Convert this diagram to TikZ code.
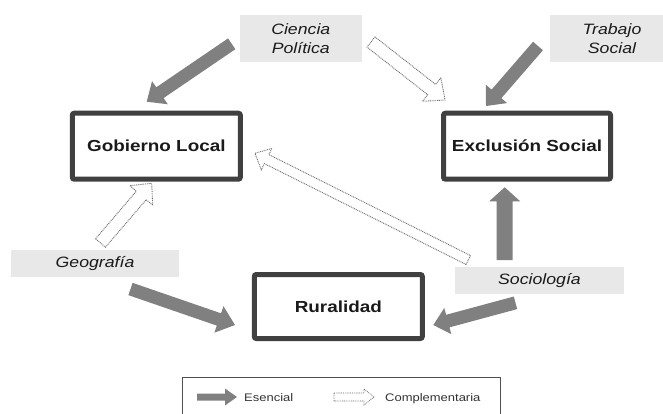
\documentclass[tikz,border=0pt]{standalone}
\usepackage{fontspec}
\setmainfont{Liberation Sans}[FakeStretch=1.18]
\usetikzlibrary{calc}
\definecolor{boxline}{HTML}{404040}
\definecolor{lblfill}{HTML}{E8E8E8}
\definecolor{arrowgrey}{HTML}{808080}
\definecolor{dotgrey}{HTML}{6A6A6A}
\definecolor{txt}{HTML}{1A1A1A}
\definecolor{legline}{HTML}{505050}
\newcommand\fatarrow[6][]{%
  \coordinate (fahb) at ($(#3)!#6!(#2)$);
  \path[#1] ($(#2)!#4!90:(#3)$) -- ($(fahb)!#4!90:(#3)$) -- ($(fahb)!#5!90:(#3)$) -- (#3)
    -- ($(fahb)!#5!-90:(#3)$) -- ($(fahb)!#4!-90:(#3)$) -- ($(#2)!#4!-90:(#3)$) -- cycle;
}
\begin{document}
\begin{tikzpicture}[x=1pt,y=-1pt,
  mainbox/.style={draw=boxline, line width=5pt, rounded corners=2pt, fill=white,
    minimum width=168pt, minimum height=66pt, inner sep=0pt,
    font=\fontsize{16}{19}\selectfont\bfseries, text=txt},
  lblbox/.style={fill=lblfill, inner sep=0pt, font=\fontsize{15}{19}\selectfont\itshape,
    text=txt, align=center},
  solidarrow/.style={fill=arrowgrey},
  dotarrow/.style={draw=dotgrey, fill=white, line width=0.9pt, dash pattern=on 0.9pt off 0.9pt},
  legtext/.style={font=\fontsize{11}{13}\selectfont, text=black!80, anchor=base west, inner sep=0pt}]
\useasboundingbox (0,0) rectangle (663,414);

% arrow end points
\coordinate (a1t) at (231.7,43.8);  \coordinate (a1h) at (146.7,101.7);
\coordinate (a2t) at (538,46);      \coordinate (a2h) at (486,106);
\coordinate (a3t) at (130.5,289);   \coordinate (a3h) at (235,325);
\coordinate (a4t) at (504.7,260);   \coordinate (a4h) at (504.7,187.3);
\coordinate (a5t) at (515.5,302.8); \coordinate (a5h) at (433.3,325);
\coordinate (d1t) at (371,42);      \coordinate (d1h) at (445,100);
\coordinate (d2t) at (100.5,243);   \coordinate (d2h) at (151.7,183.3);
\coordinate (d3t) at (468.3,260);   \coordinate (d3h) at (255,153.3);
\coordinate (l1t) at (197,397);     \coordinate (l1h) at (237,397);
\coordinate (l2t) at (334,397);     \coordinate (l2h) at (374,397);

% solid (esencial) arrows
\fatarrow[solidarrow]{a1t}{a1h}{6.5pt}{14pt}{16pt}
\fatarrow[solidarrow]{a2t}{a2h}{6.5pt}{14pt}{16pt}
\fatarrow[solidarrow]{a3t}{a3h}{6.5pt}{14pt}{17pt}
\fatarrow[solidarrow]{a4t}{a4h}{8pt}{15.5pt}{14pt}
\fatarrow[solidarrow]{a5t}{a5h}{6.5pt}{13.5pt}{15pt}
% dotted (complementaria) arrows
\fatarrow[dotarrow]{d1t}{d1h}{6.5pt}{15pt}{17pt}
\fatarrow[dotarrow]{d2t}{d2h}{6.5pt}{15pt}{16pt}
\fatarrow[dotarrow]{d3t}{d3h}{5pt}{12pt}{13pt}

% main boxes
\node[mainbox] (gob) at (156.3,146.2) {Gobierno Local};
\node[mainbox, minimum width=167pt] (exc) at (527,146.2) {Exclusión Social};
\node[mainbox, minimum height=64pt] (rur) at (338.3,306.5) {Ruralidad};

% discipline labels
\node[lblbox, minimum width=121.5pt, minimum height=47pt] (cp) at (300.8,38.5) {Ciencia\\Política};
\node[lblbox, minimum width=124pt, minimum height=47pt] (ts) at (612,38.5) {Trabajo\\Social};
\node[lblbox, minimum width=168.6pt, minimum height=26.7pt] (geo) at (95,263.5) {Geografía};
\node[lblbox, minimum width=169pt, minimum height=26.7pt] (soc) at (539.5,280.7) {Sociología};

% legend
\coordinate (lgbl) at (182,414);
\coordinate (lgtl) at (182,377);
\coordinate (lgtr) at (500,377);
\coordinate (lgbr) at (500,414);
\draw[legline, line width=1pt] (lgbl) -- (lgtl) -- (lgtr) -- (lgbr);
\fatarrow[solidarrow]{l1t}{l1h}{3.5pt}{8.5pt}{12pt}
\fatarrow[dotarrow, line width=0.7pt]{l2t}{l2h}{4pt}{8pt}{10pt}
\node[legtext] (les) at (244,401) {Esencial};
\node[legtext] (lco) at (385,401) {Complementaria};
\end{tikzpicture}
\end{document}
